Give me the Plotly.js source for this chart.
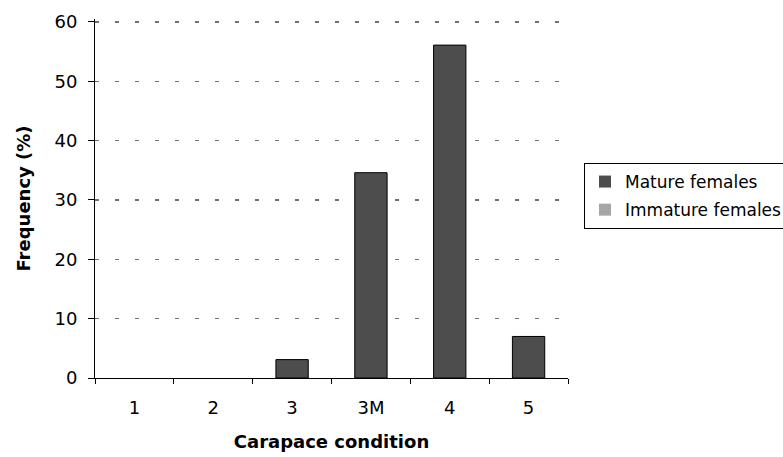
<!DOCTYPE html>
<html><head><meta charset="utf-8">
<script src="https://cdn.plot.ly/plotly-3.0.1.min.js"></script>
<style>html,body{margin:0;padding:0;background:#fff}#c{width:783px;height:457px}</style>
</head><body><div id="c"></div>
<script>
const categories = ["1","2","3","3M","4","5"];
const matureFemales = [0, 0, 3.1, 34.6, 56.1, 7.0];
const immatureFemales = [0, 0, 0, 0, 0, 0];
const yTicks = [0,10,20,30,40,50,60];

const outline = vals => vals.map(v => v > 0 ? 1 : 0);
const traces = [
  {type:'bar', name:'Mature females', x:categories, y:matureFemales, width:0.41,
   legendgroup:'a',
   marker:{color:'#4d4d4d', line:{color:'#000', width:outline(matureFemales)}}},
  {type:'bar', name:'Immature females', x:categories, y:immatureFemales, width:0.41,
   legendgroup:'b',
   marker:{color:'#a6a6a6', line:{color:'#000', width:outline(immatureFemales)}}}
];
const FONT = '"DejaVu Sans", "Liberation Sans", Arial, sans-serif';
const layout = {
  width:783, height:457,
  margin:{l:95, r:215, t:19, b:79, autoexpand:false},
  paper_bgcolor:'#fff', plot_bgcolor:'#fff',
  font:{family:FONT, size:18, color:'#000'},
  barmode:'overlay',
  showlegend:true,
  legend:{x:(584-95)/473, y:(378-163)/359, xanchor:'left', yanchor:'top',
          bordercolor:'#000', borderwidth:1, font:{size:17}, traceorder:'grouped',
          tracegroupgap:3, itemwidth:30},
  xaxis:{type:'category', tickson:'boundaries', ticks:'outside', ticklen:5, tickcolor:'#000',
         showline:true, linecolor:'#000', linewidth:1, showgrid:false, zeroline:false,
         ticklabelstandoff:13,
         title:{text:'<b>Carapace condition</b>', font:{size:18}, standoff:18}},
  yaxis:{range:[0,60.5], tickvals:yTicks, ticks:'outside', ticklen:6, tickcolor:'#000',
         showline:true, linecolor:'#000', linewidth:1, showgrid:true, gridcolor:'#707070',
         griddash:'4px,16px', gridwidth:1.3, zeroline:false, ticklabelstandoff:7,
         title:{text:'<b>Frequency (%)</b>', font:{size:18}, standoff:19}}
};
Plotly.newPlot('c', traces, layout, {displayModeBar:false, staticPlot:true});
</script></body></html>
